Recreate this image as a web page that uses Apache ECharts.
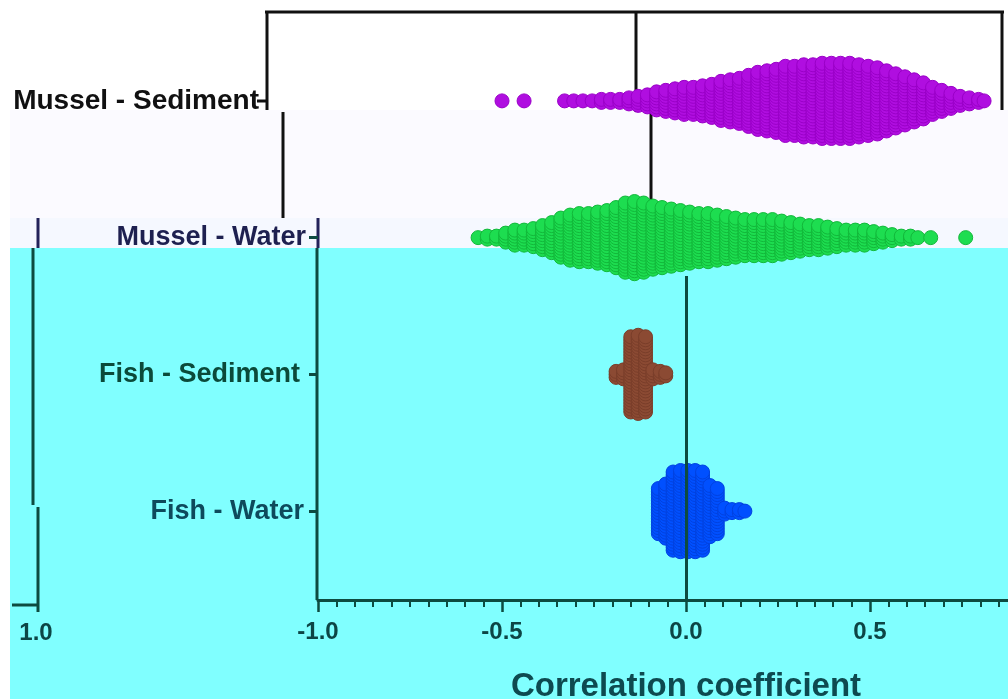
<!DOCTYPE html>
<html><head><meta charset="utf-8">
<script src="https://cdn.jsdelivr.net/npm/echarts@6/dist/echarts.min.js"></script>
<style>html,body{margin:0;padding:0;background:#fff}#c{width:1008px;height:699px}</style>
</head><body><div id="c"></div>
<script>
// categories, bottom to top (row 1..4)
const categories = ['Fish - Water', 'Fish - Sediment', 'Mussel - Water', 'Mussel - Sediment'];
const xTickLabels = ['-1.0', '-0.5', '0.0', '0.5', '1.0'];
const xTitle = 'Correlation coefficient';

// correlation bins (x) and number of dots per bin
const msValues = [-0.50, -0.44, -0.33, -0.305, -0.28, -0.255, -0.23, -0.205, -0.18, -0.155, -0.13, -0.105, -0.08, -0.055, -0.03, -0.005, 0.02, 0.045, 0.07, 0.095, 0.12, 0.145, 0.17, 0.195, 0.22, 0.245, 0.27, 0.295, 0.32, 0.345, 0.37, 0.395, 0.42, 0.445, 0.47, 0.495, 0.52, 0.545, 0.57, 0.595, 0.62, 0.645, 0.67, 0.695, 0.72, 0.745, 0.77, 0.795, 0.81];
const msCounts = [1, 1, 1, 1, 1, 1, 2, 2, 2, 3, 4, 5, 7, 8, 9, 10, 10, 11, 12, 14, 15, 16, 18, 20, 21, 22, 24, 24, 25, 25, 26, 26, 26, 26, 25, 24, 23, 21, 19, 17, 15, 13, 10, 8, 6, 4, 3, 2, 1];

const mwValues = [-0.565, -0.54, -0.515, -0.49, -0.465, -0.44, -0.415, -0.39, -0.365, -0.34, -0.315, -0.29, -0.265, -0.24, -0.215, -0.19, -0.165, -0.14, -0.115, -0.09, -0.065, -0.04, -0.015, 0.01, 0.035, 0.06, 0.085, 0.11, 0.135, 0.16, 0.185, 0.21, 0.235, 0.26, 0.285, 0.31, 0.335, 0.36, 0.385, 0.41, 0.435, 0.46, 0.485, 0.51, 0.535, 0.56, 0.585, 0.61, 0.63, 0.665, 0.76];
const mwCounts = [1, 2, 2, 4, 6, 6, 7, 9, 11, 14, 16, 17, 17, 18, 19, 21, 24, 25, 24, 22, 21, 20, 19, 18, 17, 17, 16, 15, 14, 13, 13, 13, 13, 12, 11, 10, 9, 9, 8, 7, 6, 6, 6, 5, 4, 3, 2, 2, 1, 1, 1];

const fsValues = [-0.19, -0.17, -0.15, -0.13, -0.11, -0.09, -0.07, -0.055];
const fsCounts = [3, 4, 26, 27, 26, 4, 3, 2];

const fwValues = [-0.075, -0.055, -0.035, -0.015, 0.005, 0.025, 0.045, 0.065, 0.085, 0.105, 0.125, 0.145, 0.16];
const fwCounts = [16, 19, 27, 28, 28, 28, 27, 18, 16, 3, 2, 2, 1];

// beeswarm layout: stack the dots of a bin symmetrically around the category row
const STEP = 0.022;
function swarm(vals, counts, row) {
  const pts = [];
  vals.forEach((v, i) => {
    const n = counts[i];
    for (let k = 0; k < n; k++) pts.push([v, row + (k - (n - 1) / 2) * STEP]);
  });
  return pts;
}

const TEAL = '#0d4b40';
const FONT = '"Liberation Sans", Arial, sans-serif';
const labelRich = {
  c0: { color: '#0e4a5c', fontSize: 27, fontWeight: 'bold', fontFamily: FONT, padding: [0, 2, 0, 0] },
  c1: { color: '#0b4a3a', fontSize: 27, fontWeight: 'bold', fontFamily: FONT, padding: [0, 6, 0, 0] },
  c2: { color: '#1e2050', fontSize: 27, fontWeight: 'bold', fontFamily: FONT },
  c3: { color: '#111111', fontSize: 28, fontWeight: 'bold', fontFamily: FONT, padding: [0, 47, 0, 0] }
};

function seg(x1, y1, x2, y2, color) {
  return { type: 'line', z: -5, silent: true, shape: { x1, y1, x2, y2 }, style: { stroke: color, lineWidth: 3 } };
}
function bg(y, h, fill) {
  return { type: 'rect', z: -10, silent: true, shape: { x: 10, y, width: 998, height: h }, style: { fill } };
}

const chart = echarts.init(document.getElementById('c'), null, { renderer: 'canvas' });
chart.setOption({
  animation: false,
  backgroundColor: '#ffffff',
  grid: { left: 318, right: -46, top: 12, bottom: 99, containLabel: false, outerBoundsMode: 'none' },
  xAxis: {
    type: 'value', min: -1, max: 1, interval: 0.5,
    axisLine: { show: true, onZero: false, lineStyle: { color: TEAL, width: 3 } },
    axisTick: { show: true, length: 12, lineStyle: { color: TEAL, width: 2.5 } },
    minorTick: { show: true, splitNumber: 10, length: 7, lineStyle: { color: TEAL, width: 2 } },
    splitLine: { show: false },
    axisLabel: {
      formatter: v => xTickLabels[Math.round((v + 1) / 0.5)],
      fontSize: 24, fontWeight: 'bold', fontFamily: FONT, color: '#0d4545', margin: 20
    },
    name: xTitle, nameLocation: 'middle', nameGap: 70,
    nameTextStyle: { fontSize: 33, fontWeight: 'bold', fontFamily: FONT, color: '#0e4a50' }
  },
  yAxis: {
    type: 'value', min: 0.35, max: 4.65,
    axisLine: { show: false, onZero: false },
    splitLine: { show: false },
    axisTick: { show: true, customValues: [1, 2, 3], length: 9, lineStyle: { color: TEAL, width: 3 } },
    axisLabel: {
      customValues: [1, 2, 3, 4], margin: 12,
      formatter: v => { const i = Math.round(v) - 1; return '{c' + i + '|' + categories[i] + '}'; },
      rich: labelRich
    }
  },
  graphic: [
    bg(0, 110, '#ffffff'), bg(110, 108, '#fbfaff'), bg(218, 30, '#f5f8ff'), bg(248, 451, '#80ffff'),
    seg(265, 12, 1004, 12, '#111'), seg(267, 12, 267, 110, '#111'), seg(636, 12, 636, 112, '#111'),
    seg(1002, 12, 1002, 110, '#111'), seg(257, 101, 267, 101, '#111'),
    seg(283, 112, 283, 218, '#111'), seg(651, 110, 651, 207, '#111'),
    seg(38, 218, 38, 248, '#22235a'), seg(318, 218, 318, 248, '#22235a'),
    seg(317, 248, 317, 600, TEAL), seg(33, 248, 33, 505, TEAL), seg(38, 507, 38, 612, TEAL),
    seg(12, 605, 38, 605, TEAL),
    { type: 'text', z: -5, silent: true, style: { text: xTickLabels[4], x: 36, y: 633, align: 'center', verticalAlign: 'middle', fill: '#0d4545', font: 'bold 24px ' + FONT } }
  ],
  series: [
    { type: 'scatter', data: [], z: 1, silent: true,
      markLine: { symbol: 'none', silent: true, label: { show: false },
        lineStyle: { color: TEAL, width: 3, type: 'solid' },
        data: [[{ coord: [0, 0.35] }, { coord: [0, 2.72] }]] } },
    { name: categories[3], type: 'scatter', symbol: 'circle', symbolSize: 14, clip: false,
      itemStyle: { color: '#b00ee0', borderColor: '#9a00c8', borderWidth: 1, opacity: 1 },
      data: swarm(msValues, msCounts, 4) },
    { name: categories[2], type: 'scatter', symbol: 'circle', symbolSize: 14, clip: false,
      itemStyle: { color: '#1ddd50', borderColor: '#12b83a', borderWidth: 1, opacity: 1 },
      data: swarm(mwValues, mwCounts, 3) },
    { name: categories[1], type: 'scatter', symbol: 'circle', symbolSize: 14, clip: false,
      itemStyle: { color: '#8b4a33', borderColor: '#7a3e2a', borderWidth: 1, opacity: 1 },
      data: swarm(fsValues, fsCounts, 2) },
    { name: categories[0], type: 'scatter', symbol: 'circle', symbolSize: 14, clip: false,
      itemStyle: { color: '#0050ff', borderColor: '#0042e0', borderWidth: 1, opacity: 1 },
      data: swarm(fwValues, fwCounts, 1) }
  ]
});
</script>
</body></html>
